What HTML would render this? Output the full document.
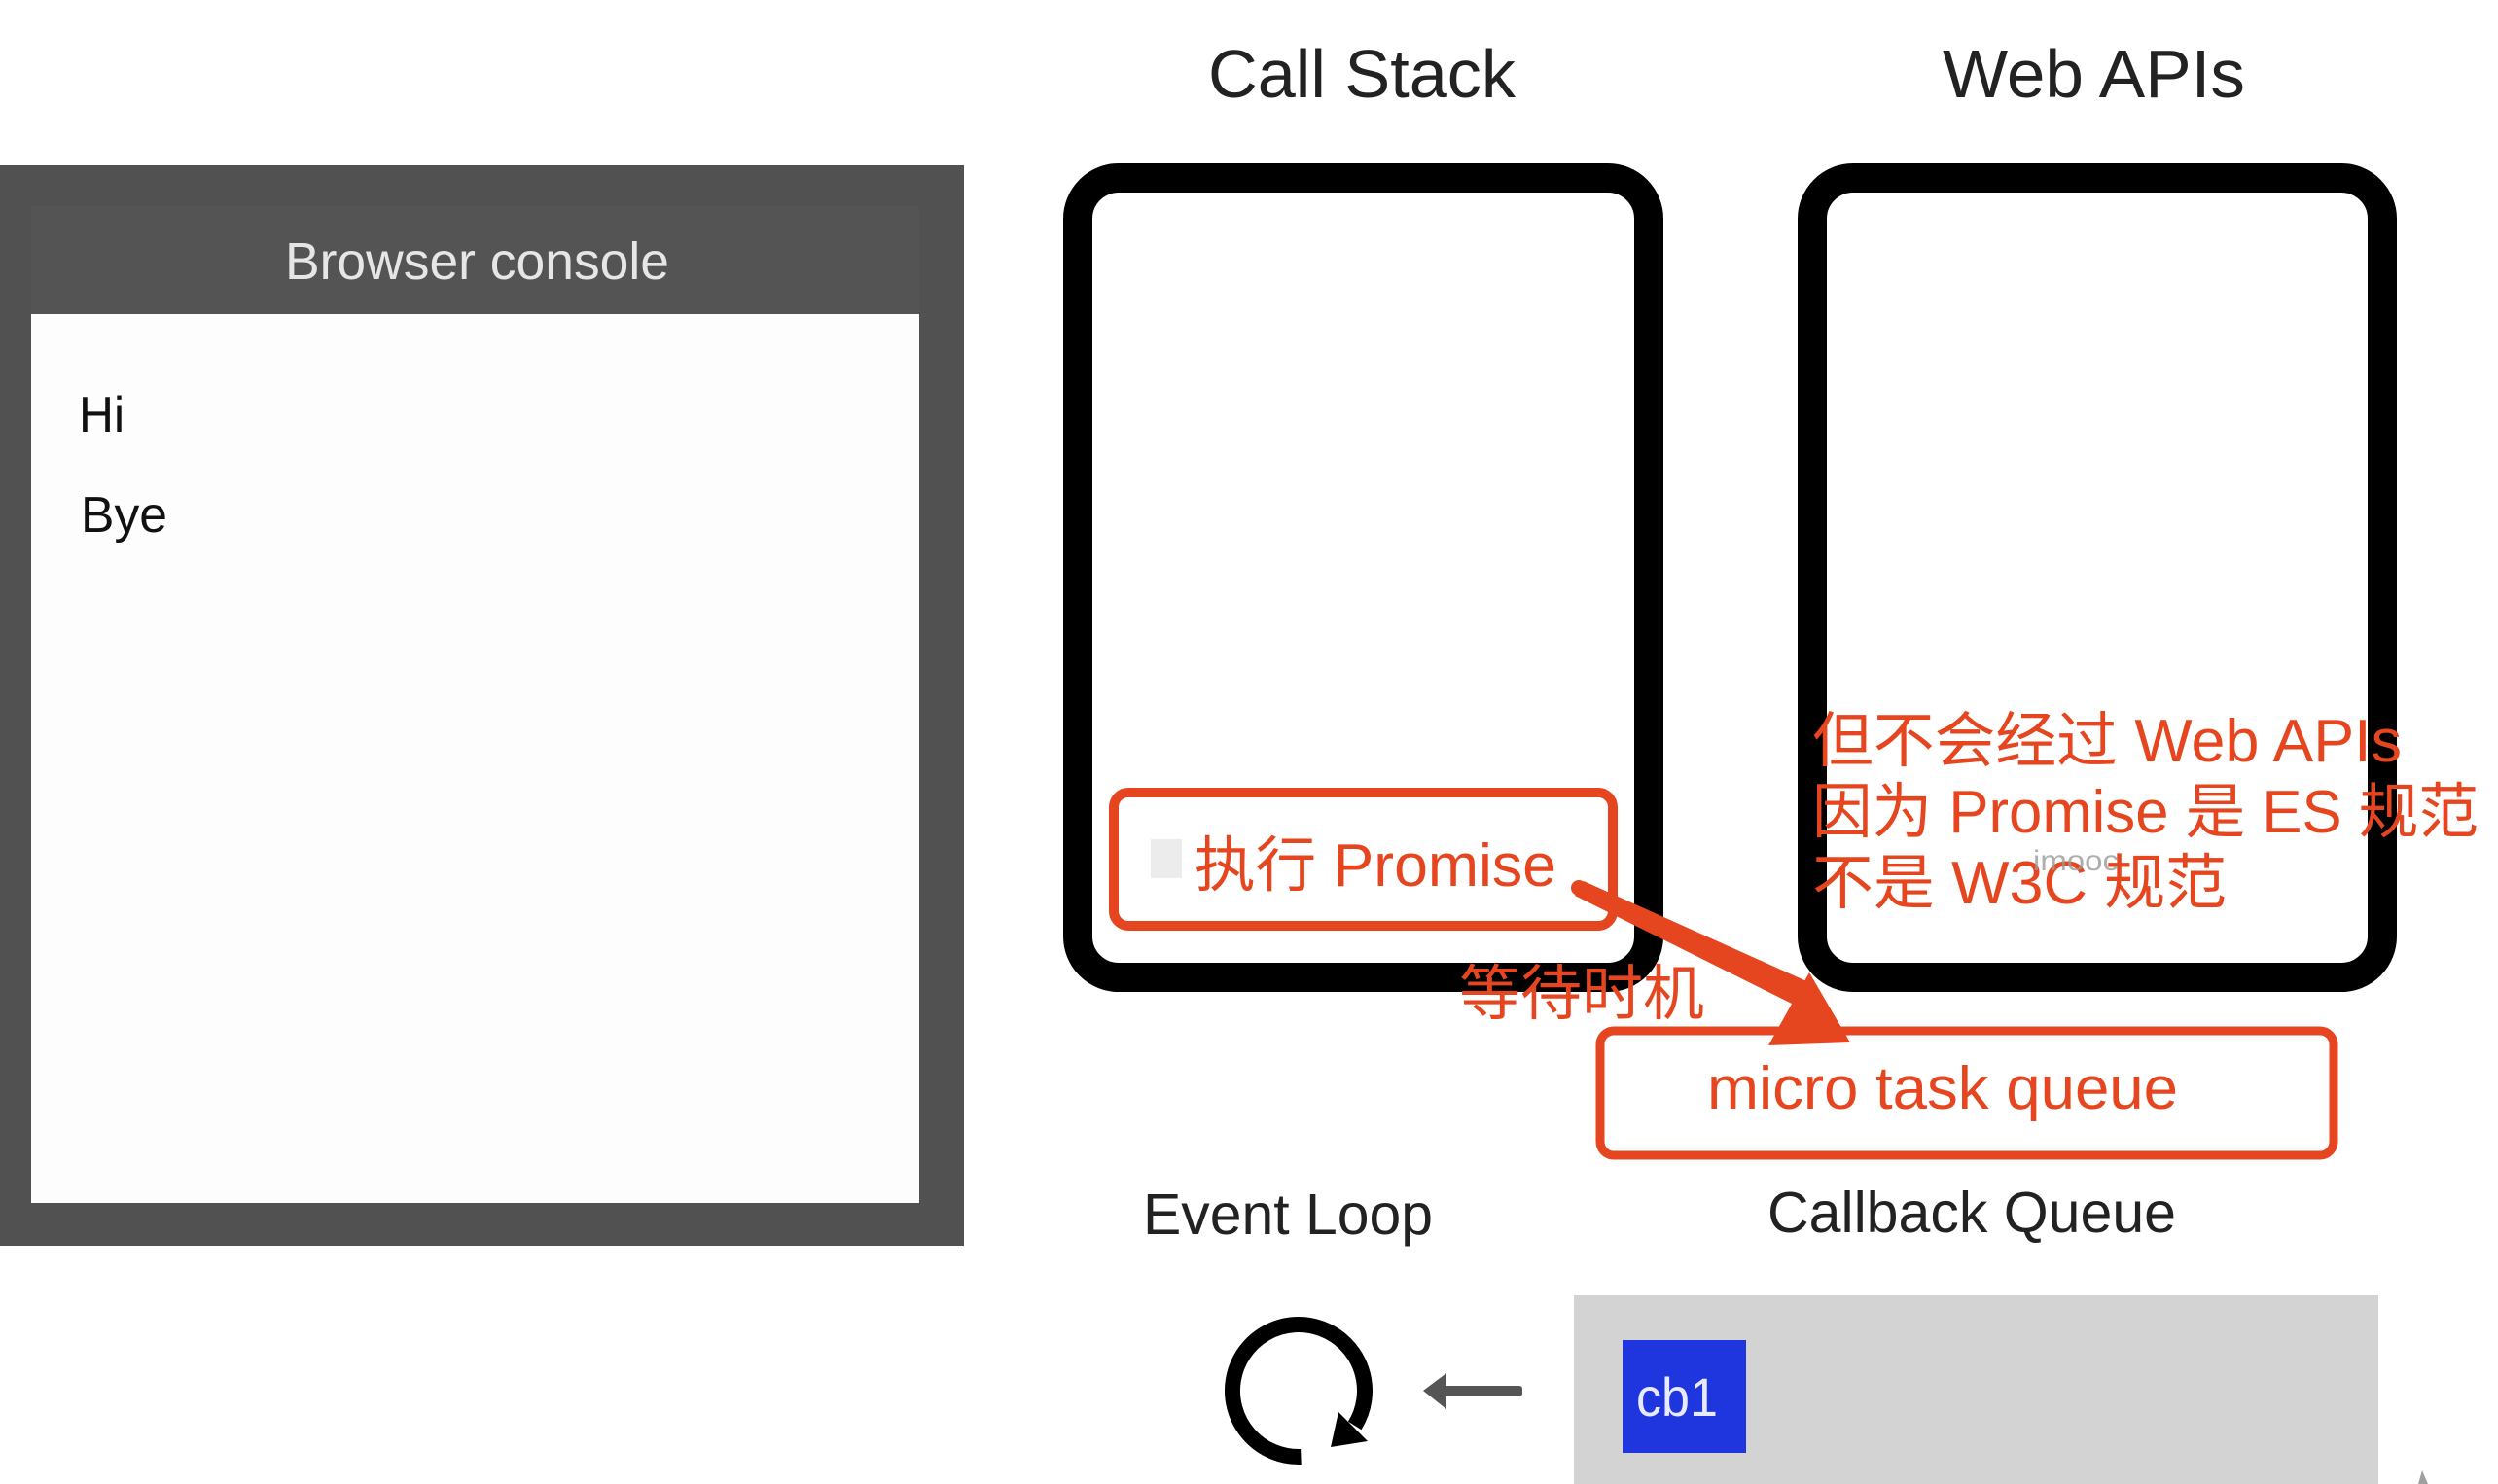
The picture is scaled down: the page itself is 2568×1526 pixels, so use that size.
<!DOCTYPE html>
<html>
<head>
<meta charset="utf-8">
<style>
html,body{margin:0;padding:0;background:#fff;}
body{width:2568px;height:1526px;overflow:hidden;}
svg{display:block;}
text{font-family:"Liberation Sans","Noto Sans CJK SC",sans-serif;}
</style>
</head>
<body>
<svg width="2568" height="1526" viewBox="0 0 2568 1526" xmlns="http://www.w3.org/2000/svg">
  <rect x="0" y="0" width="2568" height="1526" fill="#ffffff"/>

  <!-- Browser console -->
  <rect x="0" y="170" width="991" height="1111" fill="#515151"/>
  <rect x="32" y="212" width="913" height="111" fill="#545454"/>
  <rect x="32" y="323" width="913" height="914" fill="#fdfdfd"/>
  <text x="293" y="287" font-size="54" fill="#e6e6e6" textLength="395" lengthAdjust="spacingAndGlyphs">Browser console</text>
  <text x="81" y="444" font-size="52" fill="#111" textLength="47" lengthAdjust="spacingAndGlyphs">Hi</text>
  <text x="83" y="547" font-size="52" fill="#111" textLength="89" lengthAdjust="spacingAndGlyphs">Bye</text>

  <!-- Titles -->
  <text x="1242" y="100" font-size="70" fill="#222" textLength="316" lengthAdjust="spacingAndGlyphs">Call Stack</text>
  <text x="1997" y="100" font-size="70" fill="#222" textLength="311" lengthAdjust="spacingAndGlyphs">Web APIs</text>

  <!-- Call Stack box -->
  <rect x="1108" y="183" width="587" height="822" rx="42" ry="42" fill="#fff" stroke="#000" stroke-width="30"/>
  <!-- Web APIs box -->
  <rect x="1863" y="183" width="586" height="822" rx="42" ry="42" fill="#fff" stroke="#000" stroke-width="30"/>

  <!-- 执行 Promise box -->
  <rect x="1145" y="815" width="513" height="137" rx="15" ry="15" fill="#fff" stroke="#e6461f" stroke-width="10"/>
  <rect x="1183" y="863" width="32" height="40" fill="#ececec"/>
  <text x="1228" y="911" font-size="62" fill="#e6461f" textLength="372" lengthAdjust="spacingAndGlyphs">执行 Promise</text>

  <!-- Red annotation in Web APIs -->
  <text x="1863" y="783" font-size="62" fill="#e6461f" textLength="606" lengthAdjust="spacingAndGlyphs">但不会经过 Web APIs</text>
  <text x="1863" y="856" font-size="62" fill="#e6461f" textLength="685" lengthAdjust="spacingAndGlyphs">因为 Promise 是 ES 规范</text>
  <text x="1863" y="929" font-size="62" fill="#e6461f" textLength="426" lengthAdjust="spacingAndGlyphs">不是 W3C 规范</text>
  <text x="2090" y="895" font-size="30" fill="#9a9a9a" fill-opacity="0.8" textLength="88" lengthAdjust="spacingAndGlyphs">imooc</text>

  <!-- micro task queue box -->
  <rect x="1645" y="1060" width="754" height="128" rx="14" ry="14" fill="#fff" stroke="#e6461f" stroke-width="9"/>
  <text x="1755" y="1140" font-size="62" fill="#e6461f" textLength="484" lengthAdjust="spacingAndGlyphs">micro task queue</text>

  <!-- 等待时机 -->
  <text x="1500" y="1043" font-size="62" fill="#e6461f" textLength="252" lengthAdjust="spacingAndGlyphs">等待时机</text>

  <!-- Red arrow -->
  <polygon points="1619,921 1628,906 1864,1012 1850,1036" fill="#e6461f"/>
  <circle cx="1623" cy="913" r="8" fill="#e6461f"/>
  <polygon points="1860,1000 1902,1072 1818,1075" fill="#e6461f"/>

  <!-- Event Loop / Callback Queue labels -->
  <text x="1175" y="1269" font-size="59" fill="#222" textLength="298" lengthAdjust="spacingAndGlyphs">Event Loop</text>
  <text x="1817" y="1267" font-size="59" fill="#222" textLength="420" lengthAdjust="spacingAndGlyphs">Callback Queue</text>

  <!-- Event loop icon -->
  <path d="M 1337.4 1498 A 68 68 0 1 1 1392.7 1466" fill="none" stroke="#000" stroke-width="16"/>
  <polygon points="1376,1452 1406,1482 1368,1488" fill="#000"/>

  <!-- left arrow -->
  <rect x="1483" y="1425" width="82" height="11" rx="3" fill="#555"/>
  <polygon points="1463,1430 1487,1412 1487,1449" fill="#555"/>

  <!-- Callback queue gray area -->
  <rect x="1618" y="1332" width="827" height="194" fill="#d3d3d3"/>
  <rect x="1668" y="1378" width="127" height="116" fill="#1f35dd"/>
  <text x="1682" y="1456" font-size="56" fill="#e8ebff" textLength="84" lengthAdjust="spacingAndGlyphs">cb1</text>

  <!-- small gray mark bottom right -->
  <polygon points="2486,1526 2490,1512 2496,1526" fill="#a0a0a0"/>
</svg>
</body>
</html>
